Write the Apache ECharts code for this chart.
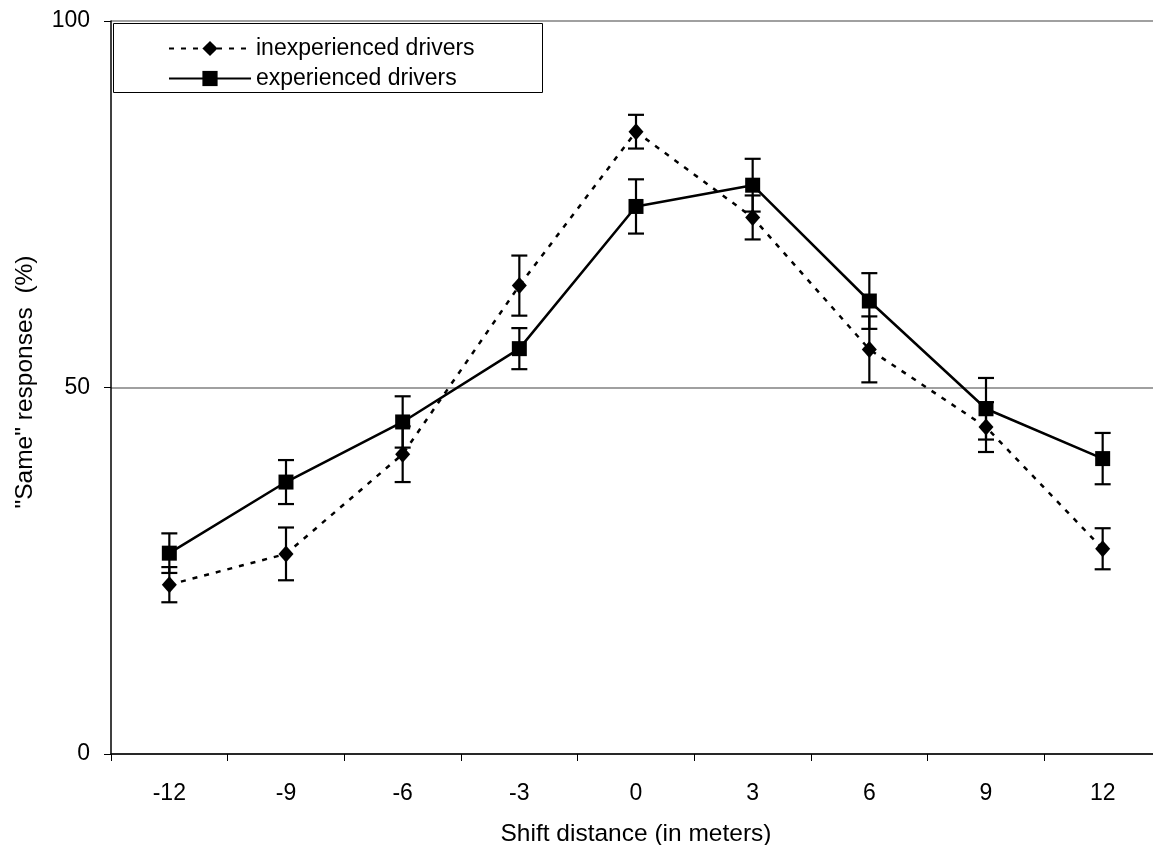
<!DOCTYPE html>
<html>
<head>
<meta charset="utf-8">
<script src="https://cdn.jsdelivr.net/npm/echarts@6/dist/echarts.min.js"></script>
<style>
  html, body { margin: 0; padding: 0; background: #fff; }
  #chart { width: 1153px; height: 845px; }
</style>
</head>
<body>
<div id="chart"></div>
<script>
// Shift distances (m)
const shifts = ['-12', '-9', '-6', '-3', '0', '3', '6', '9', '12'];

// Percentage of "same" responses
const inexperienced = [23.1, 27.3, 40.9, 63.9, 84.9, 73.2, 55.2, 44.6, 28.0];
const experienced   = [27.4, 37.1, 45.3, 55.3, 74.7, 77.6, 61.8, 47.1, 40.3];

// Error bar half-widths (percentage points)
const inexperiencedErr = [2.4, 3.6, 3.8, 4.1, 2.3, 3.0, 4.5, 3.4, 2.8];
const experiencedErr   = [2.7, 3.0, 3.5, 2.8, 3.7, 3.6, 3.8, 4.2, 3.5];

const yTicks = [0, 50, 100];

const FONT = 'Liberation Sans, Arial, sans-serif';

function errorData(values, errs) {
  return values.map((v, i) => [i, v - errs[i], v + errs[i]]);
}

function errorBarSeries(values, errs) {
  return {
    type: 'custom',
    silent: true,
    z: 3,
    data: errorData(values, errs),
    encode: { x: 0, y: [1, 2] },
    renderItem: function (params, api) {
      const x = api.value(0);
      const lo = api.coord([x, api.value(1)]);
      const hi = api.coord([x, api.value(2)]);
      const half = 8;
      const style = { stroke: '#000', lineWidth: 2.2, fill: null };
      return {
        type: 'group',
        children: [
          { type: 'line', shape: { x1: lo[0], y1: lo[1], x2: hi[0], y2: hi[1] }, style: style },
          { type: 'line', shape: { x1: lo[0] - half, y1: lo[1], x2: lo[0] + half, y2: lo[1] }, style: style },
          { type: 'line', shape: { x1: hi[0] - half, y1: hi[1], x2: hi[0] + half, y2: hi[1] }, style: style }
        ]
      };
    }
  };
}

const chart = echarts.init(document.getElementById('chart'), null, { renderer: 'canvas' });

chart.setOption({
  animation: false,
  backgroundColor: '#fff',
  textStyle: { fontFamily: FONT, color: '#000' },
  // plot area runs past the right edge of the canvas
  grid: { left: 111, top: 21, width: 1050, bottom: 91, containLabel: false, outerBoundsMode: 'none' },
  legend: {
    orient: 'vertical',
    left: 168,
    top: 37,
    padding: 0,
    itemWidth: 82,
    itemHeight: 19,
    itemGap: 7,
    textStyle: { fontFamily: FONT, fontSize: 23, color: '#000' },
    data: ['inexperienced drivers', 'experienced drivers']
  },
  graphic: [
    {
      type: 'rect',
      shape: { x: 113.5, y: 23.5, width: 429, height: 69 },
      style: { fill: null, stroke: '#000', lineWidth: 1 },
      z: 10
    },
    {
      type: 'text',
      x: 25,
      y: 382,
      rotation: Math.PI / 2,
      style: {
        text: '"Same" responses  (%)',
        font: '24.5px ' + FONT,
        fill: '#000',
        align: 'center',
        verticalAlign: 'middle'
      }
    }
  ],
  xAxis: {
    type: 'category',
    data: shifts,
    boundaryGap: true,
    name: 'Shift distance (in meters)',
    nameLocation: 'middle',
    nameGap: 68,
    nameTextStyle: { fontFamily: FONT, fontSize: 24.5, color: '#000' },
    axisLine: { lineStyle: { color: '#000', width: 1.5 } },
    axisTick: { show: true, inside: false, length: 7, interval: 0, lineStyle: { color: '#000' } },
    axisLabel: { fontFamily: FONT, fontSize: 23, color: '#000', margin: 28, interval: 0 },
    splitLine: { show: false }
  },
  yAxis: {
    type: 'value',
    min: 0,
    max: 100,
    interval: 50,
    axisLine: { show: true, lineStyle: { color: '#000', width: 1.5 } },
    axisTick: { show: true, inside: false, length: 7, lineStyle: { color: '#000' } },
    axisLabel: {
      fontFamily: FONT, fontSize: 23, color: '#000', margin: 21,
      formatter: function (v) { return yTicks.indexOf(v) >= 0 ? String(v) : ''; }
    },
    splitLine: { show: true, lineStyle: { color: '#808080', width: 1.5 } }
  },
  series: [
    {
      name: 'inexperienced drivers',
      type: 'line',
      data: inexperienced,
      symbol: 'diamond',
      symbolSize: [15, 17],
      z: 4,
      itemStyle: { color: '#000' },
      lineStyle: { color: '#000', width: 2.5, type: [5, 7] }
    },
    {
      name: 'experienced drivers',
      type: 'line',
      data: experienced,
      symbol: 'rect',
      symbolSize: 15,
      z: 5,
      itemStyle: { color: '#000' },
      lineStyle: { color: '#000', width: 2.5, type: 'solid' }
    },
    errorBarSeries(inexperienced, inexperiencedErr),
    errorBarSeries(experienced, experiencedErr)
  ]
});
</script>
</body>
</html>
